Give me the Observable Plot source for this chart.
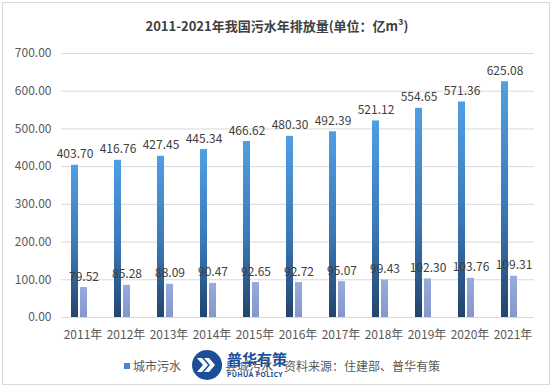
<!DOCTYPE html>
<html>
<head>
<meta charset="utf-8">
<script src="https://cdn.jsdelivr.net/npm/d3@7"></script>
<script src="https://cdn.jsdelivr.net/npm/@observablehq/plot@0.6"></script>
<style>
  html, body { margin: 0; padding: 0; background: #fff; }
  #frame { position: absolute; left: 2px; top: 2px; width: 548px; height: 383px; border: 1px solid #d9d9d9; box-sizing: border-box; }
  #wrap { position: relative; width: 554px; height: 389px; font-family: "Noto Sans CJK SC", "Noto Sans", sans-serif; overflow: hidden; }
  #title { position: absolute; left: 0; top: 16px; width: 554px; text-align: center; font-size: 13px; font-weight: bold; color: #404040; }
  #chart { position: absolute; left: 0; top: 40px; }
  #legend { position: absolute; left: 124px; top: 357px; font-size: 12px; color: #595959; white-space: nowrap; }
  #legend span.item { position: absolute; top: 0; }
  #legend i { display: inline-block; width: 6px; height: 6px; margin-right: 3px; vertical-align: 2px; }
  #logo { position: absolute; left: 191px; top: 349px; }
</style>
</head>
<body>
<div id="wrap">
  <div id="frame"></div>
  <div id="title">2011-2021年我国污水年排放量(单位：亿m³)</div>
  <div id="chart"></div>
  <div id="legend"></div>
  <svg id="logo" width="100" height="34" viewBox="0 0 100 34">
    <circle cx="16" cy="16" r="15" fill="#1d4f99"/>
    <path d="M6 9 L11 9 L17 16 L11 23 L6 23 L12 16 Z" fill="#fff"/>
    <path d="M13 9 L18 9 L24 16 L18 23 L13 23 L19 16 Z" fill="#fff"/>
    <text x="36" y="16" font-size="15" font-weight="bold" fill="#1d4f99" font-family="Noto Sans CJK SC">普华有策</text>
    <text x="36" y="28" font-size="7" font-weight="bold" fill="#1d4f99" font-family="Noto Sans" letter-spacing="0.3">PUHUA POLICY</text>
  </svg>
</div>
<script>
const years = ["2011年","2012年","2013年","2014年","2015年","2016年","2017年","2018年","2019年","2020年","2021年"];
const seriesNames = ["城市污水", "县城污水"];
const cityValues = [403.70, 416.76, 427.45, 445.34, 466.62, 480.30, 492.39, 521.12, 554.65, 571.36, 625.08];
const countyValues = [79.52, 85.28, 88.09, 90.47, 92.65, 92.72, 95.07, 99.43, 102.30, 103.76, 109.31];
const yTicks = [0, 100, 200, 300, 400, 500, 600, 700];
const sourceText = "资料来源：住建部、普华有策";

const data = [];
years.forEach((yr, i) => {
  data.push({year: yr, series: seriesNames[0], value: cityValues[i]});
  data.push({year: yr, series: seriesNames[1], value: countyValues[i]});
});

const fmt = d3.format(".2f");

const chart = Plot.plot({
  width: 554,
  height: 307,
  marginTop: 13,
  marginLeft: 57,
  marginRight: 17,
  marginBottom: 30,
  style: { fontFamily: "Noto Sans CJK SC, Noto Sans, sans-serif", fontSize: "12px", color: "#595959", background: "transparent" },
  fx: { domain: years, padding: 0, axis: "bottom", tickSize: 0, tickPadding: 13, label: null },
  x: { domain: seriesNames, axis: null, paddingInner: 0.17, paddingOuter: 1.285, align: 0.37 },
  y: { domain: [0, 700], ticks: yTicks, tickFormat: fmt, tickSize: 0, tickPadding: 10, label: null, grid: true },
  color: { domain: seriesNames, range: ["url(#gDark)", "url(#gLight)"] },
  marks: [
    Plot.barY(data, { fx: "year", x: "series", y: "value", fill: "series" }),
    Plot.text(data, { fx: "year", x: "series", y: "value", text: d => fmt(d.value), dy: -7, lineAnchor: "bottom", fill: "#404040", fontSize: 12 })
  ]
});

// gradients
const svg = d3.select(chart.tagName.toLowerCase() === "svg" ? chart : chart.querySelector("svg"));
const defs = svg.insert("defs", ":first-child");
const g1 = defs.append("linearGradient").attr("id", "gDark").attr("x1", 0).attr("y1", 0).attr("x2", 0).attr("y2", 1);
g1.append("stop").attr("offset", "0%").attr("stop-color", "#4f9fe4");
g1.append("stop").attr("offset", "55%").attr("stop-color", "#3a78b8");
g1.append("stop").attr("offset", "100%").attr("stop-color", "#22456c");
const g2 = defs.append("linearGradient").attr("id", "gLight").attr("x1", 0).attr("y1", 0).attr("x2", 0).attr("y2", 1);
g2.append("stop").attr("offset", "0%").attr("stop-color", "#97abdc");
g2.append("stop").attr("offset", "100%").attr("stop-color", "#8697cc");
svg.selectAll("g[aria-label='fy-grid'] line, g[aria-label='y-grid'] line").attr("stroke", "#d9d9d9").attr("stroke-opacity", 1);

document.getElementById("chart").appendChild(chart);

// legend
const legend = document.getElementById("legend");
const legendColors = ["#4a87c8", "#8fa3d6"];
const legendX = [0, 92];
seriesNames.forEach((s, i) => {
  const span = document.createElement("span");
  span.className = "item";
  span.style.left = legendX[i] + "px";
  span.innerHTML = `<i style="background:${legendColors[i]}"></i>${s}`;
  legend.appendChild(span);
});
const src = document.createElement("span");
src.className = "item";
src.style.left = "160px";
src.textContent = sourceText;
legend.appendChild(src);
document.getElementById("wrap").appendChild(document.getElementById("logo"));
</script>
</body>
</html>
